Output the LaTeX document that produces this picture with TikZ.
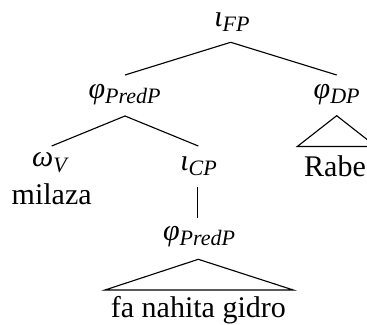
\documentclass[tikz,border=0pt]{standalone}
\usepackage{fontspec}
\setmainfont{Liberation Serif}
\newcommand{\glab}[2]{\textit{#1}\raisebox{-2.2pt}{\fontsize{8.8}{9}\selectfont\textit{#2}}}
\begin{document}
\begin{tikzpicture}[x=0.4pt,y=-0.4pt,
  every node/.style={inner sep=0pt, outer sep=0pt, font=\fontsize{12}{14}\selectfont, anchor=base},
  edge/.style={line width=0.45pt}]
\useasboundingbox (0,0) rectangle (367,325);
\clip (0,0) rectangle (367,325);
% nodes
\node (fp) at (232,26.5) {\glab{ι}{FP}};
\node (predp) at (124.5,98.5) {\glab{φ}{PredP}};
\node (dp) at (336.7,98.5) {\glab{φ}{DP}};
\node (omv) at (50.5,167) {\glab{ω}{V}};
\node (milaza) at (51.7,205) {milaza};
\node (cp) at (198.5,170.5) {\glab{ι}{CP}};
\node (rabe) at (335,176.7) {Rabe};
\node (predp2) at (199,240.5) {\glab{φ}{PredP}};
\node (fa) at (198.4,318) {fa nahita gidro};
% connector points
\coordinate (fpB) at (230.7,42.3);
\coordinate (predpT) at (125,75);
\coordinate (dpT) at (336.7,75);
\coordinate (predpB) at (125,116);
\coordinate (omvT) at (51.7,146);
\coordinate (cpT) at (198.3,146);
\coordinate (dpB) at (336.7,115.7);
\coordinate (dpL) at (297.3,146.5);
\coordinate (dpR) at (376,146.5);
\coordinate (cpB) at (197.7,186.7);
\coordinate (predp2T) at (197.7,218.3);
\coordinate (predp2B) at (198.3,259.3);
\coordinate (triL) at (105,290);
\coordinate (triR) at (293.3,290);
% connectors
\draw[edge] (fpB) -- (predpT);
\draw[edge] (fpB) -- (dpT);
\draw[edge] (predpB) -- (omvT);
\draw[edge] (predpB) -- (cpT);
\draw[edge] (dpB) -- (dpL) -- (dpR) -- cycle;
\draw[edge] (cpB) -- (predp2T);
\draw[edge] (predp2B) -- (triL) -- (triR) -- cycle;
\end{tikzpicture}
\end{document}
